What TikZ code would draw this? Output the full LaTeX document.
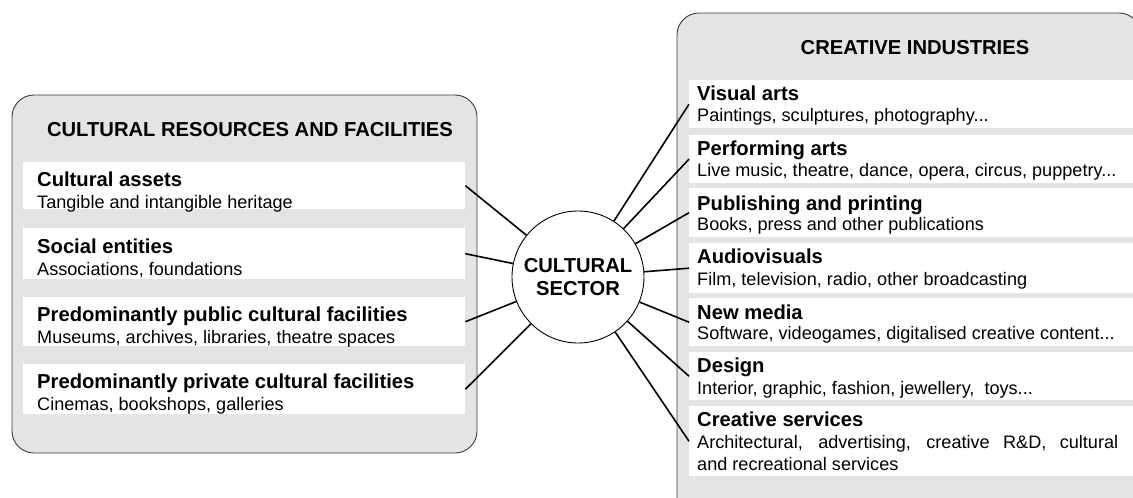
\documentclass[tikz,border=0pt]{standalone}
\usepackage{fontspec}
\setmainfont{Liberation Sans}
\definecolor{panelgray}{RGB}{228,228,228}
\definecolor{edgegray}{RGB}{60,60,60}
\tikzset{
  panel/.style={draw=edgegray, line width=0.9pt, fill=panelgray, rounded corners=22pt},
  wbox/.style={fill=white, draw=none, inner sep=0pt, anchor=north west},
  head/.style={font=\fontsize{20.2}{22}\selectfont\bfseries, inner sep=0pt, anchor=base west},
  sub/.style={font=\fontsize{18.1}{21.6}\selectfont, inner sep=0pt, anchor=base west},
  ttl/.style={font=\fontsize{20.2}{22}\selectfont\bfseries, inner sep=0pt, anchor=base},
  conn/.style={line width=1.6pt, black},
  hub/.style={circle, draw=black, line width=0.9pt, fill=white, minimum size=132pt, inner sep=0pt, align=center, font=\fontsize{20.2}{22.7}\selectfont\bfseries}
}
\begin{document}
\begin{tikzpicture}[x=1pt, y=-1pt]
\useasboundingbox (0,0) rectangle (1133,498);
\clip (0,0) rectangle (1133,498);
\fill[white] (0,0) rectangle (1133,498);
% panels
\path[panel] (12,95) rectangle (477,453);
\path[panel] (677,13) rectangle (1141,520);
% titles
\node[ttl] (lt) at (250,136.7) {CULTURAL RESOURCES AND FACILITIES};
\node[ttl] (rt) at (915,54) {CREATIVE INDUSTRIES};
% left boxes
\node[wbox, minimum width=442pt, minimum height=47pt] (l1) at (23,162) {};
\node[wbox, minimum width=442pt, minimum height=51pt] (l2) at (23,228) {};
\node[wbox, minimum width=442pt, minimum height=49pt] (l3) at (23,297) {};
\node[wbox, minimum width=442pt, minimum height=50pt] (l4) at (23,364) {};
\node[head] (l1h) at (37,186.7) {Cultural assets};
\node[sub]  (l1s) at (37,208.3) {Tangible and intangible heritage};
\node[head] (l2h) at (37,253.3) {Social entities};
\node[sub]  (l2s) at (37,275) {Associations, foundations};
\node[head] (l3h) at (37,321.7) {Predominantly public cultural facilities};
\node[sub]  (l3s) at (37,343.3) {Museums, archives, libraries, theatre spaces};
\node[head] (l4h) at (37,388.3) {Predominantly private cultural facilities};
\node[sub]  (l4s) at (37,410.7) {Cinemas, bookshops, galleries};
% right boxes
\node[wbox, minimum width=450pt, minimum height=48pt] (r1) at (689,80) {};
\node[wbox, minimum width=450pt, minimum height=48pt] (r2) at (689,135) {};
\node[wbox, minimum width=450pt, minimum height=49pt] (r3) at (689,188) {};
\node[wbox, minimum width=450pt, minimum height=50pt] (r4) at (689,243) {};
\node[wbox, minimum width=450pt, minimum height=48pt] (r5) at (689,298) {};
\node[wbox, minimum width=450pt, minimum height=48pt] (r6) at (689,352) {};
\node[wbox, minimum width=450pt, minimum height=70pt] (r7) at (689,406) {};
\node[head] (r1h) at (697,100.7) {Visual arts};
\node[sub]  (r1s) at (697,121.7) {Paintings, sculptures, photography...};
\node[head] (r2h) at (697,155.5) {Performing arts};
\node[sub]  (r2s) at (697,176.7) {Live music, theatre, dance, opera, circus, puppetry...};
\node[head] (r3h) at (697,210) {Publishing and printing};
\node[sub]  (r3s) at (697,230.5) {Books, press and other publications};
\node[head] (r4h) at (697,263.5) {Audiovisuals};
\node[sub]  (r4s) at (697,285) {Film, television, radio, other broadcasting};
\node[head] (r5h) at (697,319.3) {New media};
\node[sub]  (r5s) at (697,339.5) {Software, videogames, digitalised creative content...};
\node[head] (r6h) at (697,372.7) {Design};
\node[sub]  (r6s) at (697,394) {Interior, graphic, fashion, jewellery,\ \ toys...};
\node[head] (r7h) at (697,426.7) {Creative services};
\node[sub]  (r7s) at (697,448.3) {\makebox[421pt][s]{Architectural, advertising, creative R\&D, cultural}};
\node[sub]  (r7t) at (697,470) {and recreational services};
% hub
\node[hub] (cs) at (578,277) {CULTURAL\\SECTOR};
% connectors
\foreach \b in {l1,l2,l3,l4} \draw[conn] (\b.east) -- (cs);
\foreach \b in {r1,r2,r3,r4,r5,r6,r7} \draw[conn] (\b.west) -- (cs);
\end{tikzpicture}
\end{document}
